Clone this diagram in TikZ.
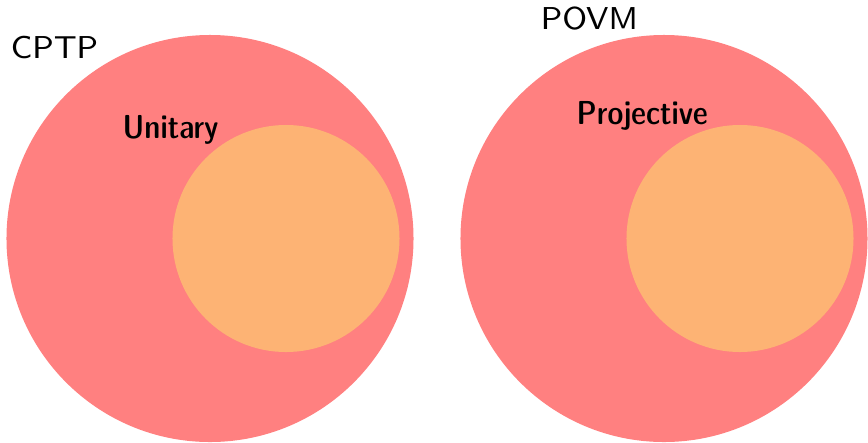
\documentclass[tikz,border=0pt]{standalone}
\renewcommand{\familydefault}{\sfdefault}
\definecolor{outerred}{RGB}{255,128,128}
\definecolor{innerorange}{RGB}{253,179,116}
\begin{document}
\begin{tikzpicture}[x=0.316pt,y=-0.316pt,
  outerset/.style={fill=outerred,draw=none},
  innerset/.style={fill=innerorange,draw=none},
  setlabel/.style={anchor=base west,inner sep=0pt,scale=1.25,transform shape,font=\fontsize{8}{10}\selectfont\sffamily},
  sublabel/.style={anchor=base west,inner sep=0pt,scale=1.05,transform shape,font=\fontsize{10}{12}\selectfont\sffamily\fontseries{sbc}\selectfont}]
\useasboundingbox (0,0) rectangle (868,442);
\fill[outerset] (210,238.5) circle [radius=64.31pt];
\fill[outerset] (664,238.5) circle [radius=64.31pt];
\fill[innerset] (286,238.5) circle [radius=35.87pt];
\fill[innerset] (740,238.5) circle [radius=35.87pt];
\node[setlabel] (cptp) at (10,58) {CPTP};
\node[sublabel] (unitary) at (122,138) {Unitary};
\node[setlabel] (povm) at (540,29) {POVM};
\node[sublabel] (proj) at (576,124) {Projective};
\end{tikzpicture}
\end{document}
